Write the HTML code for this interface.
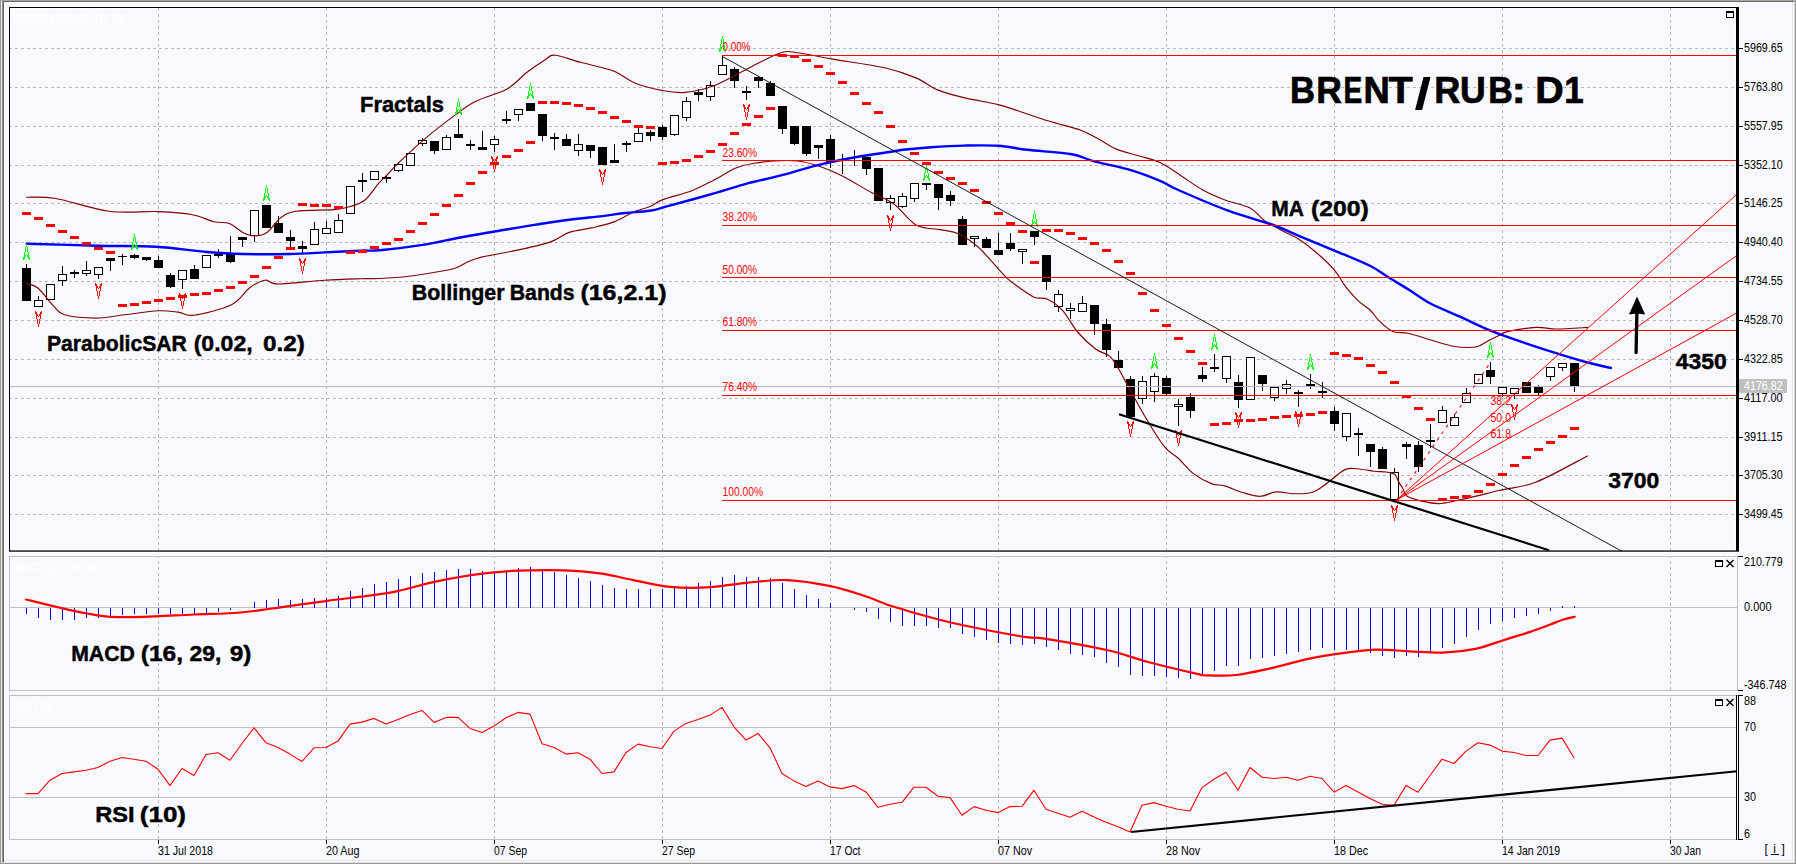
<!DOCTYPE html>
<html><head><meta charset="utf-8"><title>BRENT/RUB D1</title>
<style>html,body{margin:0;padding:0;background:#f8f9fe;overflow:hidden}svg{display:block}text{font-family:"Liberation Sans",sans-serif}</style></head>
<body>
<svg width="1796" height="864" viewBox="0 0 1796 864" font-family="'Liberation Sans', sans-serif">
<rect x="0.00" y="0.00" width="1796.00" height="864.00" fill="#f8f9fe" />
<g shape-rendering="crispEdges">
<rect x="0.00" y="0.00" width="1796.00" height="1.00" fill="#a5a5a5" />
<rect x="0.00" y="1.00" width="1796.00" height="1.00" fill="#696969" />
<rect x="4.00" y="2.00" width="1789.00" height="1.00" fill="#ffffff" />
<rect x="0.00" y="0.00" width="1.00" height="864.00" fill="#999999" />
<rect x="1.00" y="1.00" width="1.00" height="864.00" fill="#eeeeee" />
<rect x="2.00" y="1.00" width="1.00" height="864.00" fill="#8c8c8c" />
<rect x="3.00" y="1.00" width="1.00" height="864.00" fill="#666666" />
<rect x="4.00" y="2.00" width="1.00" height="858.00" fill="#ffffff" />
<rect x="1792.00" y="2.00" width="1.00" height="859.00" fill="#e3e3e3" />
<rect x="1793.00" y="2.00" width="1.00" height="860.00" fill="#ffffff" />
<rect x="1794.00" y="1.00" width="1.00" height="864.00" fill="#d4d4d4" />
<rect x="1795.00" y="0.00" width="1.00" height="864.00" fill="#999999" />
<rect x="4.00" y="860.00" width="1789.00" height="1.00" fill="#e3e3e3" />
<rect x="4.00" y="861.00" width="1790.00" height="1.00" fill="#ffffff" />
<rect x="1.00" y="862.00" width="1794.00" height="1.00" fill="#dcdcdc" />
<rect x="0.00" y="863.00" width="1796.00" height="1.00" fill="#999999" />
<rect x="8.00" y="6.00" width="1732.00" height="1.00" fill="#ffffff" />
<rect x="8.00" y="6.00" width="1.00" height="546.00" fill="#ffffff" />
<rect x="10.00" y="8.00" width="1726.00" height="1.00" fill="#ffffff" />
<rect x="10.00" y="8.00" width="1.00" height="542.00" fill="#ffffff" />
<rect x="1735.00" y="8.00" width="1.00" height="542.00" fill="#ffffff" />
<rect x="1739.00" y="6.00" width="1.00" height="546.00" fill="#ffffff" />
<rect x="10.00" y="549.00" width="1726.00" height="1.00" fill="#ffffff" />
<rect x="8.00" y="552.00" width="1732.00" height="1.00" fill="#ffffff" />
</g>
<g stroke="#b8b8b8" stroke-width="1" stroke-dasharray="3 3" shape-rendering="crispEdges">
<line x1="10" y1="48.5" x2="1737" y2="48.5" stroke-dashoffset="1"/>
<line x1="10" y1="87.5" x2="1737" y2="87.5" stroke-dashoffset="1"/>
<line x1="10" y1="126.5" x2="1737" y2="126.5" stroke-dashoffset="1"/>
<line x1="10" y1="165.5" x2="1737" y2="165.5" stroke-dashoffset="1"/>
<line x1="10" y1="203.5" x2="1737" y2="203.5" stroke-dashoffset="1"/>
<line x1="10" y1="242.5" x2="1737" y2="242.5" stroke-dashoffset="1"/>
<line x1="10" y1="281.5" x2="1737" y2="281.5" stroke-dashoffset="1"/>
<line x1="10" y1="320.5" x2="1737" y2="320.5" stroke-dashoffset="1"/>
<line x1="10" y1="359.5" x2="1737" y2="359.5" stroke-dashoffset="1"/>
<line x1="10" y1="398.5" x2="1737" y2="398.5" stroke-dashoffset="1"/>
<line x1="10" y1="437.5" x2="1737" y2="437.5" stroke-dashoffset="1"/>
<line x1="10" y1="475.5" x2="1737" y2="475.5" stroke-dashoffset="1"/>
<line x1="10" y1="514.5" x2="1737" y2="514.5" stroke-dashoffset="1"/>
<line x1="158.5" y1="8" x2="158.5" y2="550"/>
<line x1="158.5" y1="557" x2="158.5" y2="690" stroke-dashoffset="2"/>
<line x1="158.5" y1="696" x2="158.5" y2="839" stroke-dashoffset="4"/>
<line x1="326.5" y1="8" x2="326.5" y2="550"/>
<line x1="326.5" y1="557" x2="326.5" y2="690" stroke-dashoffset="2"/>
<line x1="326.5" y1="696" x2="326.5" y2="839" stroke-dashoffset="4"/>
<line x1="494.5" y1="8" x2="494.5" y2="550"/>
<line x1="494.5" y1="557" x2="494.5" y2="690" stroke-dashoffset="2"/>
<line x1="494.5" y1="696" x2="494.5" y2="839" stroke-dashoffset="4"/>
<line x1="662.5" y1="8" x2="662.5" y2="550"/>
<line x1="662.5" y1="557" x2="662.5" y2="690" stroke-dashoffset="2"/>
<line x1="662.5" y1="696" x2="662.5" y2="839" stroke-dashoffset="4"/>
<line x1="830.5" y1="8" x2="830.5" y2="550"/>
<line x1="830.5" y1="557" x2="830.5" y2="690" stroke-dashoffset="2"/>
<line x1="830.5" y1="696" x2="830.5" y2="839" stroke-dashoffset="4"/>
<line x1="998.5" y1="8" x2="998.5" y2="550"/>
<line x1="998.5" y1="557" x2="998.5" y2="690" stroke-dashoffset="2"/>
<line x1="998.5" y1="696" x2="998.5" y2="839" stroke-dashoffset="4"/>
<line x1="1166.5" y1="8" x2="1166.5" y2="550"/>
<line x1="1166.5" y1="557" x2="1166.5" y2="690" stroke-dashoffset="2"/>
<line x1="1166.5" y1="696" x2="1166.5" y2="839" stroke-dashoffset="4"/>
<line x1="1334.5" y1="8" x2="1334.5" y2="550"/>
<line x1="1334.5" y1="557" x2="1334.5" y2="690" stroke-dashoffset="2"/>
<line x1="1334.5" y1="696" x2="1334.5" y2="839" stroke-dashoffset="4"/>
<line x1="1502.5" y1="8" x2="1502.5" y2="550"/>
<line x1="1502.5" y1="557" x2="1502.5" y2="690" stroke-dashoffset="2"/>
<line x1="1502.5" y1="696" x2="1502.5" y2="839" stroke-dashoffset="4"/>
<line x1="1670.5" y1="8" x2="1670.5" y2="550"/>
<line x1="1670.5" y1="557" x2="1670.5" y2="690" stroke-dashoffset="2"/>
<line x1="1670.5" y1="696" x2="1670.5" y2="839" stroke-dashoffset="4"/>
</g>
<text x="14.2" y="22.5" font-size="12" fill="#ffffff" font-weight="normal" text-anchor="start" textLength="111" lengthAdjust="spacingAndGlyphs" >&amp;BRENT/RUB. D1 [3]</text>
<text x="14.8" y="571.5" font-size="12" fill="#ffffff" font-weight="normal" text-anchor="start" textLength="81" lengthAdjust="spacingAndGlyphs" >MACD (12, 26, 9)</text>
<text x="15" y="710.5" font-size="12" fill="#ffffff" font-weight="normal" text-anchor="start" textLength="38" lengthAdjust="spacingAndGlyphs" >RSI  (10)</text>
<g shape-rendering="crispEdges">
<rect x="26.00" y="264.00" width="1.00" height="37.00" fill="#000" />
<rect x="22.00" y="268.00" width="9.00" height="33.00" fill="#000" />
<rect x="38.00" y="296.00" width="1.00" height="10.00" fill="#000" />
<rect x="34.00" y="300.00" width="9.00" height="7.00" fill="#000" />
<rect x="35.00" y="301.00" width="7.00" height="5.00" fill="#fff" />
<rect x="50.00" y="284.00" width="1.00" height="15.00" fill="#000" />
<rect x="46.00" y="284.00" width="9.00" height="16.00" fill="#000" />
<rect x="47.00" y="285.00" width="7.00" height="14.00" fill="#fff" />
<rect x="62.00" y="266.00" width="1.00" height="20.00" fill="#000" />
<rect x="58.00" y="274.00" width="9.00" height="7.00" fill="#000" />
<rect x="59.00" y="275.00" width="7.00" height="5.00" fill="#fff" />
<rect x="74.00" y="270.00" width="1.00" height="8.00" fill="#000" />
<rect x="70.00" y="272.00" width="9.00" height="2.00" fill="#000" />
<rect x="86.00" y="261.00" width="1.00" height="15.00" fill="#000" />
<rect x="82.00" y="270.00" width="9.00" height="4.00" fill="#000" />
<rect x="83.00" y="271.00" width="7.00" height="2.00" fill="#fff" />
<rect x="98.00" y="267.00" width="1.00" height="12.00" fill="#000" />
<rect x="94.00" y="267.00" width="9.00" height="8.00" fill="#000" />
<rect x="95.00" y="268.00" width="7.00" height="6.00" fill="#fff" />
<rect x="110.00" y="258.00" width="1.00" height="13.00" fill="#000" />
<rect x="106.00" y="258.00" width="9.00" height="3.00" fill="#000" />
<rect x="122.00" y="254.00" width="1.00" height="11.00" fill="#000" />
<rect x="118.00" y="256.00" width="9.00" height="1.00" fill="#000" />
<rect x="134.00" y="254.00" width="1.00" height="5.00" fill="#000" />
<rect x="130.00" y="255.00" width="9.00" height="3.00" fill="#000" />
<rect x="146.00" y="257.00" width="1.00" height="4.00" fill="#000" />
<rect x="142.00" y="257.00" width="9.00" height="3.00" fill="#000" />
<rect x="158.00" y="256.00" width="1.00" height="12.00" fill="#000" />
<rect x="154.00" y="260.00" width="9.00" height="8.00" fill="#000" />
<rect x="170.00" y="273.00" width="1.00" height="15.00" fill="#000" />
<rect x="166.00" y="275.00" width="9.00" height="12.00" fill="#000" />
<rect x="182.00" y="271.00" width="1.00" height="18.00" fill="#000" />
<rect x="178.00" y="270.00" width="9.00" height="10.00" fill="#000" />
<rect x="179.00" y="271.00" width="7.00" height="8.00" fill="#fff" />
<rect x="194.00" y="265.00" width="1.00" height="13.00" fill="#000" />
<rect x="190.00" y="269.00" width="9.00" height="10.00" fill="#000" />
<rect x="206.00" y="255.00" width="1.00" height="12.00" fill="#000" />
<rect x="202.00" y="255.00" width="9.00" height="13.00" fill="#000" />
<rect x="203.00" y="256.00" width="7.00" height="11.00" fill="#fff" />
<rect x="218.00" y="249.00" width="1.00" height="9.00" fill="#000" />
<rect x="214.00" y="254.00" width="9.00" height="2.00" fill="#000" />
<rect x="230.00" y="236.00" width="1.00" height="27.00" fill="#000" />
<rect x="226.00" y="253.00" width="9.00" height="9.00" fill="#000" />
<rect x="242.00" y="237.00" width="1.00" height="10.00" fill="#000" />
<rect x="238.00" y="237.00" width="9.00" height="3.00" fill="#000" />
<rect x="254.00" y="210.00" width="1.00" height="32.00" fill="#000" />
<rect x="250.00" y="210.00" width="9.00" height="26.00" fill="#000" />
<rect x="251.00" y="211.00" width="7.00" height="24.00" fill="#fff" />
<rect x="266.00" y="205.00" width="1.00" height="23.00" fill="#000" />
<rect x="262.00" y="205.00" width="9.00" height="23.00" fill="#000" />
<rect x="278.00" y="216.00" width="1.00" height="16.00" fill="#000" />
<rect x="274.00" y="223.00" width="9.00" height="10.00" fill="#000" />
<rect x="290.00" y="230.00" width="1.00" height="17.00" fill="#000" />
<rect x="286.00" y="237.00" width="9.00" height="4.00" fill="#000" />
<rect x="302.00" y="241.00" width="1.00" height="12.00" fill="#000" />
<rect x="298.00" y="246.00" width="9.00" height="3.00" fill="#000" />
<rect x="314.00" y="222.00" width="1.00" height="22.00" fill="#000" />
<rect x="310.00" y="229.00" width="9.00" height="16.00" fill="#000" />
<rect x="311.00" y="230.00" width="7.00" height="14.00" fill="#fff" />
<rect x="326.00" y="221.00" width="1.00" height="12.00" fill="#000" />
<rect x="322.00" y="228.00" width="9.00" height="6.00" fill="#000" />
<rect x="323.00" y="229.00" width="7.00" height="4.00" fill="#fff" />
<rect x="338.00" y="214.00" width="1.00" height="18.00" fill="#000" />
<rect x="334.00" y="220.00" width="9.00" height="13.00" fill="#000" />
<rect x="335.00" y="221.00" width="7.00" height="11.00" fill="#fff" />
<rect x="350.00" y="186.00" width="1.00" height="27.00" fill="#000" />
<rect x="346.00" y="186.00" width="9.00" height="28.00" fill="#000" />
<rect x="347.00" y="187.00" width="7.00" height="26.00" fill="#fff" />
<rect x="362.00" y="173.00" width="1.00" height="19.00" fill="#000" />
<rect x="358.00" y="180.00" width="9.00" height="2.00" fill="#000" />
<rect x="374.00" y="171.00" width="1.00" height="8.00" fill="#000" />
<rect x="370.00" y="171.00" width="9.00" height="9.00" fill="#000" />
<rect x="371.00" y="172.00" width="7.00" height="7.00" fill="#fff" />
<rect x="386.00" y="175.00" width="1.00" height="8.00" fill="#000" />
<rect x="382.00" y="177.00" width="9.00" height="2.00" fill="#000" />
<rect x="398.00" y="162.00" width="1.00" height="10.00" fill="#000" />
<rect x="394.00" y="164.00" width="9.00" height="7.00" fill="#000" />
<rect x="395.00" y="165.00" width="7.00" height="5.00" fill="#fff" />
<rect x="410.00" y="154.00" width="1.00" height="11.00" fill="#000" />
<rect x="406.00" y="153.00" width="9.00" height="13.00" fill="#000" />
<rect x="407.00" y="154.00" width="7.00" height="11.00" fill="#fff" />
<rect x="422.00" y="138.00" width="1.00" height="8.00" fill="#000" />
<rect x="418.00" y="140.00" width="9.00" height="4.00" fill="#000" />
<rect x="419.00" y="141.00" width="7.00" height="2.00" fill="#fff" />
<rect x="434.00" y="141.00" width="1.00" height="13.00" fill="#000" />
<rect x="430.00" y="141.00" width="9.00" height="10.00" fill="#000" />
<rect x="446.00" y="135.00" width="1.00" height="14.00" fill="#000" />
<rect x="442.00" y="137.00" width="9.00" height="13.00" fill="#000" />
<rect x="443.00" y="138.00" width="7.00" height="11.00" fill="#fff" />
<rect x="458.00" y="119.00" width="1.00" height="18.00" fill="#000" />
<rect x="454.00" y="134.00" width="9.00" height="4.00" fill="#000" />
<rect x="470.00" y="140.00" width="1.00" height="10.00" fill="#000" />
<rect x="466.00" y="144.00" width="9.00" height="2.00" fill="#000" />
<rect x="482.00" y="131.00" width="1.00" height="19.00" fill="#000" />
<rect x="478.00" y="147.00" width="9.00" height="3.00" fill="#000" />
<rect x="494.00" y="136.00" width="1.00" height="16.00" fill="#000" />
<rect x="490.00" y="139.00" width="9.00" height="6.00" fill="#000" />
<rect x="491.00" y="140.00" width="7.00" height="4.00" fill="#fff" />
<rect x="506.00" y="111.00" width="1.00" height="13.00" fill="#000" />
<rect x="502.00" y="119.00" width="9.00" height="2.00" fill="#000" />
<rect x="518.00" y="110.00" width="1.00" height="11.00" fill="#000" />
<rect x="514.00" y="109.00" width="9.00" height="6.00" fill="#000" />
<rect x="515.00" y="110.00" width="7.00" height="4.00" fill="#fff" />
<rect x="530.00" y="104.00" width="1.00" height="6.00" fill="#000" />
<rect x="526.00" y="103.00" width="9.00" height="8.00" fill="#000" />
<rect x="542.00" y="114.00" width="1.00" height="27.00" fill="#000" />
<rect x="538.00" y="114.00" width="9.00" height="22.00" fill="#000" />
<rect x="554.00" y="133.00" width="1.00" height="17.00" fill="#000" />
<rect x="550.00" y="137.00" width="9.00" height="2.00" fill="#000" />
<rect x="566.00" y="134.00" width="1.00" height="11.00" fill="#000" />
<rect x="562.00" y="139.00" width="9.00" height="7.00" fill="#000" />
<rect x="578.00" y="134.00" width="1.00" height="22.00" fill="#000" />
<rect x="574.00" y="144.00" width="9.00" height="7.00" fill="#000" />
<rect x="575.00" y="145.00" width="7.00" height="5.00" fill="#fff" />
<rect x="590.00" y="145.00" width="1.00" height="13.00" fill="#000" />
<rect x="586.00" y="145.00" width="9.00" height="6.00" fill="#000" />
<rect x="602.00" y="147.00" width="1.00" height="18.00" fill="#000" />
<rect x="598.00" y="147.00" width="9.00" height="18.00" fill="#000" />
<rect x="614.00" y="144.00" width="1.00" height="18.00" fill="#000" />
<rect x="610.00" y="160.00" width="9.00" height="3.00" fill="#000" />
<rect x="626.00" y="141.00" width="1.00" height="11.00" fill="#000" />
<rect x="622.00" y="143.00" width="9.00" height="2.00" fill="#000" />
<rect x="638.00" y="128.00" width="1.00" height="13.00" fill="#000" />
<rect x="634.00" y="133.00" width="9.00" height="9.00" fill="#000" />
<rect x="635.00" y="134.00" width="7.00" height="7.00" fill="#fff" />
<rect x="650.00" y="130.00" width="1.00" height="11.00" fill="#000" />
<rect x="646.00" y="132.00" width="9.00" height="4.00" fill="#000" />
<rect x="662.00" y="125.00" width="1.00" height="15.00" fill="#000" />
<rect x="658.00" y="127.00" width="9.00" height="10.00" fill="#000" />
<rect x="674.00" y="116.00" width="1.00" height="20.00" fill="#000" />
<rect x="670.00" y="115.00" width="9.00" height="20.00" fill="#000" />
<rect x="671.00" y="116.00" width="7.00" height="18.00" fill="#fff" />
<rect x="686.00" y="97.00" width="1.00" height="24.00" fill="#000" />
<rect x="682.00" y="101.00" width="9.00" height="17.00" fill="#000" />
<rect x="683.00" y="102.00" width="7.00" height="15.00" fill="#fff" />
<rect x="698.00" y="89.00" width="1.00" height="12.00" fill="#000" />
<rect x="694.00" y="92.00" width="9.00" height="3.00" fill="#000" />
<rect x="710.00" y="81.00" width="1.00" height="20.00" fill="#000" />
<rect x="706.00" y="85.00" width="9.00" height="12.00" fill="#000" />
<rect x="707.00" y="86.00" width="7.00" height="10.00" fill="#fff" />
<rect x="722.00" y="56.00" width="1.00" height="18.00" fill="#000" />
<rect x="718.00" y="65.00" width="9.00" height="10.00" fill="#000" />
<rect x="719.00" y="66.00" width="7.00" height="8.00" fill="#fff" />
<rect x="734.00" y="67.00" width="1.00" height="21.00" fill="#000" />
<rect x="730.00" y="69.00" width="9.00" height="12.00" fill="#000" />
<rect x="746.00" y="86.00" width="1.00" height="14.00" fill="#000" />
<rect x="742.00" y="91.00" width="9.00" height="2.00" fill="#000" />
<rect x="758.00" y="76.00" width="1.00" height="12.00" fill="#000" />
<rect x="754.00" y="77.00" width="9.00" height="4.00" fill="#000" />
<rect x="770.00" y="81.00" width="1.00" height="15.00" fill="#000" />
<rect x="766.00" y="83.00" width="9.00" height="13.00" fill="#000" />
<rect x="782.00" y="107.00" width="1.00" height="27.00" fill="#000" />
<rect x="778.00" y="106.00" width="9.00" height="23.00" fill="#000" />
<rect x="794.00" y="126.00" width="1.00" height="19.00" fill="#000" />
<rect x="790.00" y="126.00" width="9.00" height="18.00" fill="#000" />
<rect x="806.00" y="126.00" width="1.00" height="30.00" fill="#000" />
<rect x="802.00" y="126.00" width="9.00" height="28.00" fill="#000" />
<rect x="818.00" y="145.00" width="1.00" height="14.00" fill="#000" />
<rect x="814.00" y="145.00" width="9.00" height="3.00" fill="#000" />
<rect x="830.00" y="135.00" width="1.00" height="33.00" fill="#000" />
<rect x="826.00" y="139.00" width="9.00" height="23.00" fill="#000" />
<rect x="842.00" y="154.00" width="1.00" height="20.00" fill="#000" />
<rect x="838.00" y="160.00" width="9.00" height="1.00" fill="#000" />
<rect x="854.00" y="150.00" width="1.00" height="16.00" fill="#000" />
<rect x="850.00" y="157.00" width="9.00" height="1.00" fill="#000" />
<rect x="866.00" y="157.00" width="1.00" height="18.00" fill="#000" />
<rect x="862.00" y="157.00" width="9.00" height="12.00" fill="#000" />
<rect x="878.00" y="168.00" width="1.00" height="32.00" fill="#000" />
<rect x="874.00" y="168.00" width="9.00" height="33.00" fill="#000" />
<rect x="890.00" y="195.00" width="1.00" height="15.00" fill="#000" />
<rect x="886.00" y="198.00" width="9.00" height="5.00" fill="#000" />
<rect x="887.00" y="199.00" width="7.00" height="3.00" fill="#fff" />
<rect x="902.00" y="193.00" width="1.00" height="15.00" fill="#000" />
<rect x="898.00" y="196.00" width="9.00" height="11.00" fill="#000" />
<rect x="899.00" y="197.00" width="7.00" height="9.00" fill="#fff" />
<rect x="914.00" y="184.00" width="1.00" height="18.00" fill="#000" />
<rect x="910.00" y="183.00" width="9.00" height="16.00" fill="#000" />
<rect x="911.00" y="184.00" width="7.00" height="14.00" fill="#fff" />
<rect x="926.00" y="183.00" width="1.00" height="7.00" fill="#000" />
<rect x="922.00" y="183.00" width="9.00" height="2.00" fill="#000" />
<rect x="938.00" y="184.00" width="1.00" height="26.00" fill="#000" />
<rect x="934.00" y="184.00" width="9.00" height="14.00" fill="#000" />
<rect x="950.00" y="191.00" width="1.00" height="15.00" fill="#000" />
<rect x="946.00" y="195.00" width="9.00" height="6.00" fill="#000" />
<rect x="962.00" y="216.00" width="1.00" height="29.00" fill="#000" />
<rect x="958.00" y="219.00" width="9.00" height="26.00" fill="#000" />
<rect x="974.00" y="236.00" width="1.00" height="11.00" fill="#000" />
<rect x="970.00" y="236.00" width="9.00" height="3.00" fill="#000" />
<rect x="971.00" y="237.00" width="7.00" height="1.00" fill="#fff" />
<rect x="986.00" y="237.00" width="1.00" height="11.00" fill="#000" />
<rect x="982.00" y="239.00" width="9.00" height="9.00" fill="#000" />
<rect x="998.00" y="233.00" width="1.00" height="22.00" fill="#000" />
<rect x="994.00" y="250.00" width="9.00" height="5.00" fill="#000" />
<rect x="1010.00" y="233.00" width="1.00" height="18.00" fill="#000" />
<rect x="1006.00" y="243.00" width="9.00" height="6.00" fill="#000" />
<rect x="1022.00" y="249.00" width="1.00" height="15.00" fill="#000" />
<rect x="1018.00" y="249.00" width="9.00" height="3.00" fill="#000" />
<rect x="1019.00" y="250.00" width="7.00" height="1.00" fill="#fff" />
<rect x="1034.00" y="231.00" width="1.00" height="14.00" fill="#000" />
<rect x="1030.00" y="231.00" width="9.00" height="6.00" fill="#000" />
<rect x="1046.00" y="256.00" width="1.00" height="34.00" fill="#000" />
<rect x="1042.00" y="255.00" width="9.00" height="27.00" fill="#000" />
<rect x="1058.00" y="290.00" width="1.00" height="22.00" fill="#000" />
<rect x="1054.00" y="294.00" width="9.00" height="13.00" fill="#000" />
<rect x="1055.00" y="295.00" width="7.00" height="11.00" fill="#fff" />
<rect x="1070.00" y="303.00" width="1.00" height="16.00" fill="#000" />
<rect x="1066.00" y="308.00" width="9.00" height="3.00" fill="#000" />
<rect x="1067.00" y="309.00" width="7.00" height="1.00" fill="#fff" />
<rect x="1082.00" y="296.00" width="1.00" height="15.00" fill="#000" />
<rect x="1078.00" y="303.00" width="9.00" height="9.00" fill="#000" />
<rect x="1079.00" y="304.00" width="7.00" height="7.00" fill="#fff" />
<rect x="1094.00" y="306.00" width="1.00" height="29.00" fill="#000" />
<rect x="1090.00" y="305.00" width="9.00" height="19.00" fill="#000" />
<rect x="1106.00" y="319.00" width="1.00" height="38.00" fill="#000" />
<rect x="1102.00" y="324.00" width="9.00" height="26.00" fill="#000" />
<rect x="1118.00" y="351.00" width="1.00" height="17.00" fill="#000" />
<rect x="1114.00" y="360.00" width="9.00" height="8.00" fill="#000" />
<rect x="1130.00" y="376.00" width="1.00" height="41.00" fill="#000" />
<rect x="1126.00" y="379.00" width="9.00" height="38.00" fill="#000" />
<rect x="1142.00" y="376.00" width="1.00" height="28.00" fill="#000" />
<rect x="1138.00" y="381.00" width="9.00" height="18.00" fill="#000" />
<rect x="1139.00" y="382.00" width="7.00" height="16.00" fill="#fff" />
<rect x="1154.00" y="373.00" width="1.00" height="29.00" fill="#000" />
<rect x="1150.00" y="376.00" width="9.00" height="16.00" fill="#000" />
<rect x="1151.00" y="377.00" width="7.00" height="14.00" fill="#fff" />
<rect x="1166.00" y="376.00" width="1.00" height="19.00" fill="#000" />
<rect x="1162.00" y="378.00" width="9.00" height="16.00" fill="#000" />
<rect x="1178.00" y="399.00" width="1.00" height="27.00" fill="#000" />
<rect x="1174.00" y="404.00" width="9.00" height="3.00" fill="#000" />
<rect x="1175.00" y="405.00" width="7.00" height="1.00" fill="#fff" />
<rect x="1190.00" y="393.00" width="1.00" height="25.00" fill="#000" />
<rect x="1186.00" y="397.00" width="9.00" height="14.00" fill="#000" />
<rect x="1202.00" y="367.00" width="1.00" height="15.00" fill="#000" />
<rect x="1198.00" y="375.00" width="9.00" height="4.00" fill="#000" />
<rect x="1214.00" y="354.00" width="1.00" height="18.00" fill="#000" />
<rect x="1210.00" y="367.00" width="9.00" height="2.00" fill="#000" />
<rect x="1226.00" y="356.00" width="1.00" height="27.00" fill="#000" />
<rect x="1222.00" y="356.00" width="9.00" height="23.00" fill="#000" />
<rect x="1223.00" y="357.00" width="7.00" height="21.00" fill="#fff" />
<rect x="1238.00" y="375.00" width="1.00" height="33.00" fill="#000" />
<rect x="1234.00" y="382.00" width="9.00" height="18.00" fill="#000" />
<rect x="1250.00" y="357.00" width="1.00" height="43.00" fill="#000" />
<rect x="1246.00" y="357.00" width="9.00" height="43.00" fill="#000" />
<rect x="1247.00" y="358.00" width="7.00" height="41.00" fill="#fff" />
<rect x="1262.00" y="375.00" width="1.00" height="16.00" fill="#000" />
<rect x="1258.00" y="375.00" width="9.00" height="9.00" fill="#000" />
<rect x="1274.00" y="387.00" width="1.00" height="14.00" fill="#000" />
<rect x="1270.00" y="387.00" width="9.00" height="11.00" fill="#000" />
<rect x="1271.00" y="388.00" width="7.00" height="9.00" fill="#fff" />
<rect x="1286.00" y="380.00" width="1.00" height="14.00" fill="#000" />
<rect x="1282.00" y="384.00" width="9.00" height="5.00" fill="#000" />
<rect x="1283.00" y="385.00" width="7.00" height="3.00" fill="#fff" />
<rect x="1298.00" y="390.00" width="1.00" height="17.00" fill="#000" />
<rect x="1294.00" y="392.00" width="9.00" height="2.00" fill="#000" />
<rect x="1310.00" y="374.00" width="1.00" height="15.00" fill="#000" />
<rect x="1306.00" y="384.00" width="9.00" height="2.00" fill="#000" />
<rect x="1322.00" y="382.00" width="1.00" height="16.00" fill="#000" />
<rect x="1318.00" y="391.00" width="9.00" height="2.00" fill="#000" />
<rect x="1334.00" y="407.00" width="1.00" height="24.00" fill="#000" />
<rect x="1330.00" y="411.00" width="9.00" height="13.00" fill="#000" />
<rect x="1346.00" y="413.00" width="1.00" height="28.00" fill="#000" />
<rect x="1342.00" y="413.00" width="9.00" height="24.00" fill="#000" />
<rect x="1343.00" y="414.00" width="7.00" height="22.00" fill="#fff" />
<rect x="1358.00" y="428.00" width="1.00" height="28.00" fill="#000" />
<rect x="1354.00" y="433.00" width="9.00" height="2.00" fill="#000" />
<rect x="1370.00" y="444.00" width="1.00" height="23.00" fill="#000" />
<rect x="1366.00" y="444.00" width="9.00" height="8.00" fill="#000" />
<rect x="1382.00" y="447.00" width="1.00" height="21.00" fill="#000" />
<rect x="1378.00" y="449.00" width="9.00" height="20.00" fill="#000" />
<rect x="1394.00" y="468.00" width="1.00" height="32.00" fill="#000" />
<rect x="1390.00" y="472.00" width="9.00" height="28.00" fill="#000" />
<rect x="1391.00" y="473.00" width="7.00" height="26.00" fill="#fff" />
<rect x="1406.00" y="442.00" width="1.00" height="17.00" fill="#000" />
<rect x="1402.00" y="444.00" width="9.00" height="3.00" fill="#000" />
<rect x="1418.00" y="441.00" width="1.00" height="31.00" fill="#000" />
<rect x="1414.00" y="445.00" width="9.00" height="22.00" fill="#000" />
<rect x="1430.00" y="424.00" width="1.00" height="24.00" fill="#000" />
<rect x="1426.00" y="440.00" width="9.00" height="2.00" fill="#000" />
<rect x="1442.00" y="406.00" width="1.00" height="16.00" fill="#000" />
<rect x="1438.00" y="410.00" width="9.00" height="13.00" fill="#000" />
<rect x="1439.00" y="411.00" width="7.00" height="11.00" fill="#fff" />
<rect x="1454.00" y="414.00" width="1.00" height="11.00" fill="#000" />
<rect x="1450.00" y="417.00" width="9.00" height="9.00" fill="#000" />
<rect x="1451.00" y="418.00" width="7.00" height="7.00" fill="#fff" />
<rect x="1466.00" y="388.00" width="1.00" height="14.00" fill="#000" />
<rect x="1462.00" y="393.00" width="9.00" height="10.00" fill="#000" />
<rect x="1463.00" y="394.00" width="7.00" height="8.00" fill="#fff" />
<rect x="1478.00" y="374.00" width="1.00" height="9.00" fill="#000" />
<rect x="1474.00" y="374.00" width="9.00" height="10.00" fill="#000" />
<rect x="1475.00" y="375.00" width="7.00" height="8.00" fill="#fff" />
<rect x="1490.00" y="362.00" width="1.00" height="22.00" fill="#000" />
<rect x="1486.00" y="370.00" width="9.00" height="7.00" fill="#000" />
<rect x="1502.00" y="386.00" width="1.00" height="11.00" fill="#000" />
<rect x="1498.00" y="387.00" width="9.00" height="7.00" fill="#000" />
<rect x="1499.00" y="388.00" width="7.00" height="5.00" fill="#fff" />
<rect x="1514.00" y="388.00" width="1.00" height="11.00" fill="#000" />
<rect x="1510.00" y="388.00" width="9.00" height="6.00" fill="#000" />
<rect x="1511.00" y="389.00" width="7.00" height="4.00" fill="#fff" />
<rect x="1526.00" y="382.00" width="1.00" height="10.00" fill="#000" />
<rect x="1522.00" y="382.00" width="9.00" height="11.00" fill="#000" />
<rect x="1538.00" y="385.00" width="1.00" height="10.00" fill="#000" />
<rect x="1534.00" y="386.00" width="9.00" height="7.00" fill="#000" />
<rect x="1550.00" y="368.00" width="1.00" height="13.00" fill="#000" />
<rect x="1546.00" y="367.00" width="9.00" height="10.00" fill="#000" />
<rect x="1547.00" y="368.00" width="7.00" height="8.00" fill="#fff" />
<rect x="1562.00" y="364.00" width="1.00" height="7.00" fill="#000" />
<rect x="1558.00" y="363.00" width="9.00" height="5.00" fill="#000" />
<rect x="1559.00" y="364.00" width="7.00" height="3.00" fill="#fff" />
<rect x="1574.00" y="363.00" width="1.00" height="29.00" fill="#000" />
<rect x="1570.00" y="363.00" width="9.00" height="24.00" fill="#000" />
</g>
<path d="M26.7,197.2 C31.5,197.4 42.0,196.2 55.7,198.5 C69.4,200.8 92.0,209.0 109.0,211.2 C126.0,213.4 144.2,211.0 158.0,211.6 C171.8,212.2 182.2,212.8 191.5,214.5 C200.8,216.2 207.5,220.2 213.8,221.7 C220.1,223.2 224.6,221.7 229.4,223.5 C234.2,225.3 238.7,230.4 242.8,232.4 C246.9,234.4 249.9,235.7 253.9,235.7 C257.9,235.7 262.6,235.4 267.0,232.4 C271.4,229.4 275.8,221.4 280.6,217.9 C285.4,214.4 287.1,212.6 296.0,211.2 C304.9,209.8 325.1,210.3 334.0,209.6 C342.9,208.8 344.5,208.3 349.7,206.7 C354.9,205.1 360.2,203.9 365.0,200.0 C369.8,196.1 374.8,187.7 378.6,183.4 C382.4,179.1 384.8,177.3 388.0,174.0 C391.2,170.7 391.7,169.4 397.8,163.6 C403.9,157.8 414.9,147.3 424.5,139.1 C434.1,130.9 447.1,120.9 455.7,114.6 C464.2,108.3 467.2,105.6 475.8,101.3 C484.4,97.0 498.5,93.8 507.0,89.0 C515.5,84.2 520.7,77.1 527.0,72.3 C533.3,67.5 540.2,62.9 544.8,60.0 C549.4,57.1 548.9,54.8 554.8,55.2 C560.7,55.6 570.8,59.7 580.4,62.3 C590.0,64.9 603.4,67.3 612.7,70.8 C622.0,74.3 627.6,80.2 636.0,83.5 C644.4,86.8 654.6,89.1 662.8,90.6 C671.0,92.1 676.5,93.2 685.0,92.4 C693.5,91.6 704.7,89.1 714.0,85.7 C723.3,82.3 733.1,76.2 740.8,72.3 C748.5,68.4 753.1,65.6 760.0,62.3 C766.9,58.9 776.0,53.8 782.3,52.2 C788.6,50.6 789.7,51.6 797.9,52.7 C806.1,53.8 816.8,56.4 831.3,58.9 C845.8,61.4 870.6,64.6 884.7,67.8 C898.8,71.0 907.0,74.2 915.9,77.9 C924.8,81.6 930.0,86.8 938.2,90.1 C946.4,93.4 954.9,95.5 964.9,97.9 C974.9,100.3 989.0,102.3 998.3,104.6 C1007.6,106.9 1012.1,108.9 1020.6,111.7 C1029.1,114.5 1039.5,118.2 1049.5,121.3 C1059.5,124.4 1072.5,127.2 1080.7,130.2 C1088.9,133.2 1092.6,135.9 1098.5,139.1 C1104.4,142.2 1109.6,146.3 1116.3,149.1 C1123.0,151.9 1131.3,153.6 1138.6,155.8 C1145.9,158.0 1153.1,159.3 1160.0,162.5 C1166.9,165.7 1172.9,170.4 1180.0,175.0 C1187.1,179.6 1195.3,185.8 1202.8,190.0 C1210.3,194.2 1217.2,197.0 1225.0,200.0 C1232.8,203.0 1242.9,204.3 1249.6,207.8 C1256.3,211.3 1259.3,217.1 1265.2,221.2 C1271.1,225.3 1279.4,229.2 1285.2,232.3 C1291.0,235.4 1294.2,236.1 1300.0,240.0 C1305.8,243.9 1314.2,250.7 1320.0,255.8 C1325.8,260.9 1330.8,265.8 1335.0,270.8 C1339.2,275.8 1341.1,280.8 1345.0,285.8 C1348.9,290.8 1354.1,296.8 1358.3,300.8 C1362.5,304.8 1366.4,306.5 1370.0,310.0 C1373.6,313.5 1376.1,318.1 1380.0,321.7 C1383.9,325.3 1388.6,329.8 1393.3,331.7 C1398.0,333.6 1401.6,331.8 1408.3,333.3 C1415.0,334.8 1425.8,338.6 1433.3,340.8 C1440.8,343.0 1447.5,345.2 1453.3,346.3 C1459.1,347.4 1464.1,347.5 1468.3,347.5 C1472.5,347.5 1475.0,347.4 1478.3,346.3 C1481.6,345.2 1484.7,342.7 1488.3,340.8 C1491.9,338.9 1496.8,336.5 1500.0,335.0 C1503.2,333.5 1501.4,332.9 1507.4,331.6 C1513.5,330.3 1528.2,327.8 1536.3,327.4 C1544.4,327.0 1547.8,329.0 1556.3,329.0 C1564.8,329.0 1582.3,327.7 1587.5,327.4" fill="none" stroke="#800000" stroke-width="1.15" stroke-linecap="round" />
<path d="M26.7,283.6 C28.6,284.3 33.4,284.3 37.9,288.0 C42.4,291.7 49.0,301.4 53.5,305.9 C58.0,310.4 57.5,312.8 64.6,314.8 C71.6,316.8 85.8,318.1 95.8,318.1 C105.8,318.1 114.3,316.0 124.7,314.8 C135.1,313.6 149.1,311.2 158.0,310.8 C166.9,310.4 172.0,311.4 178.0,312.1 C184.0,312.8 184.9,316.4 193.8,315.2 C202.7,314.0 222.3,309.2 231.6,304.7 C240.9,300.2 243.8,292.1 249.4,288.0 C255.0,283.9 260.2,280.9 265.0,280.2 C269.8,279.5 268.4,284.0 278.4,284.0 C288.4,284.0 311.3,281.1 325.0,280.2 C338.7,279.3 351.6,279.0 360.8,278.7 C370.0,278.4 372.0,278.9 380.0,278.5 C388.0,278.1 399.4,277.4 409.0,276.3 C418.6,275.2 430.1,273.2 437.9,271.8 C445.7,270.4 450.5,269.8 455.7,268.0 C460.9,266.2 464.7,263.2 469.1,261.3 C473.6,259.4 475.7,258.5 482.4,256.9 C489.1,255.3 498.1,254.2 509.2,251.8 C520.4,249.4 539.3,245.6 549.3,242.4 C559.3,239.2 562.2,234.8 569.3,232.4 C576.3,230.0 584.2,229.7 591.6,227.9 C599.0,226.2 606.9,224.6 613.9,221.9 C620.9,219.2 628.0,214.2 633.9,211.7 C639.8,209.2 644.7,208.8 649.5,206.8 C654.3,204.8 655.8,202.3 662.8,199.6 C669.8,196.9 683.2,194.0 691.8,190.7 C700.3,187.4 706.7,183.8 714.1,180.0 C721.5,176.2 729.7,170.6 736.4,167.8 C743.1,165.0 748.1,164.4 754.2,163.3 C760.3,162.2 765.7,161.4 773.0,161.0 C780.3,160.6 790.1,160.1 797.9,161.0 C805.7,161.9 812.6,164.0 820.0,166.5 C827.4,169.0 833.8,171.6 842.4,175.9 C851.0,180.2 862.9,188.0 871.4,192.6 C879.9,197.2 886.2,198.3 893.6,203.7 C901.0,209.1 908.2,220.6 915.9,224.9 C923.6,229.2 933.0,228.2 940.0,229.6 C947.0,231.0 951.5,230.5 957.8,233.4 C964.1,236.3 970.1,239.8 977.9,246.8 C985.7,253.9 998.7,269.6 1004.6,275.7 C1010.5,281.8 1008.7,280.0 1013.5,283.5 C1018.3,287.0 1027.9,294.3 1033.5,296.9 C1039.1,299.5 1042.1,296.9 1046.9,299.1 C1051.7,301.3 1057.3,304.7 1062.5,310.3 C1067.7,315.9 1072.4,326.0 1078.0,332.5 C1083.6,339.0 1090.7,345.3 1095.9,349.2 C1101.1,353.1 1105.6,352.7 1109.3,355.9 C1113.0,359.1 1115.6,364.1 1118.2,368.2 C1120.8,372.3 1120.5,372.5 1124.9,380.4 C1129.3,388.3 1137.9,404.6 1144.5,415.7 C1151.1,426.8 1159.0,439.8 1164.6,446.9 C1170.2,453.9 1173.2,453.6 1178.0,458.0 C1182.8,462.4 1187.9,469.3 1193.5,473.6 C1199.1,477.9 1206.2,481.6 1211.4,483.6 C1216.6,485.7 1219.5,484.4 1224.7,485.9 C1229.9,487.4 1236.5,490.8 1242.5,492.5 C1248.5,494.2 1254.8,496.4 1260.4,496.3 C1266.0,496.2 1270.4,492.3 1276.0,491.9 C1281.6,491.5 1287.9,493.6 1293.8,493.7 C1299.7,493.8 1306.4,494.0 1311.6,492.5 C1316.8,491.0 1319.4,488.6 1325.0,484.8 C1330.6,481.0 1339.1,472.2 1345.0,469.6 C1350.9,467.0 1355.8,468.9 1360.6,469.2 C1365.4,469.5 1369.8,470.7 1374.0,471.2 C1378.2,471.7 1382.8,471.6 1386.0,472.0 C1389.2,472.4 1391.6,472.9 1393.3,473.6 C1395.0,474.3 1395.0,474.5 1396.0,476.0 C1397.0,477.5 1397.9,480.5 1399.1,482.6 C1400.3,484.8 1402.1,487.0 1403.1,488.9 C1404.1,490.8 1404.2,492.7 1405.0,494.0 C1405.8,495.3 1406.2,495.8 1408.0,496.7 C1409.8,497.6 1413.5,498.8 1416.0,499.6 C1418.5,500.4 1418.9,500.8 1423.0,501.4 C1427.1,502.0 1433.8,504.0 1440.8,503.5 C1447.8,503.0 1455.4,500.8 1465.3,498.6 C1475.2,496.4 1488.2,493.1 1500.0,490.3 C1511.8,487.5 1521.7,487.7 1536.3,482.0 C1550.9,476.3 1579.0,460.2 1587.5,455.9" fill="none" stroke="#800000" stroke-width="1.15" stroke-linecap="round" />
<path d="M26.7,243.7 C38.6,244.0 76.5,245.2 98.0,245.7 C119.5,246.2 137.8,245.8 156.0,246.8 C174.2,247.9 192.5,250.8 207.0,252.0 C221.5,253.2 229.1,253.7 242.8,254.0 C256.6,254.3 275.8,254.3 289.5,254.0 C303.2,253.7 313.1,253.0 325.0,252.4 C336.9,251.8 351.6,251.0 360.8,250.6 C370.0,250.2 369.4,251.2 380.0,250.2 C390.6,249.2 411.1,246.7 424.5,244.6 C437.9,242.5 448.3,239.7 460.2,237.5 C472.1,235.3 483.2,233.5 495.8,231.3 C508.4,229.2 523.6,226.5 535.9,224.6 C548.1,222.7 558.2,221.1 569.3,219.7 C580.4,218.3 593.4,217.2 602.7,216.1 C612.0,215.0 617.2,213.9 625.0,213.0 C632.8,212.1 642.1,212.0 649.5,210.8 C656.9,209.6 658.7,208.6 669.5,205.7 C680.3,202.8 701.1,197.1 714.1,193.4 C727.1,189.7 736.5,186.4 747.5,183.4 C758.5,180.4 768.2,178.8 780.0,175.7 C791.8,172.6 805.0,168.2 818.0,165.1 C831.0,161.9 845.8,159.0 858.0,156.8 C870.2,154.6 883.5,153.0 891.0,151.8 C898.5,150.6 896.3,150.6 903.0,149.8 C909.7,149.0 920.8,147.9 931.0,147.2 C941.2,146.5 952.8,145.8 964.0,145.6 C975.2,145.4 987.8,145.1 998.3,145.8 C1008.8,146.5 1015.0,148.4 1027.3,149.8 C1039.5,151.2 1060.7,152.4 1071.8,154.3 C1082.9,156.2 1084.8,158.9 1094.1,161.4 C1103.4,163.9 1116.5,166.0 1127.5,169.2 C1138.5,172.4 1151.5,177.3 1160.0,180.8 C1168.5,184.3 1166.7,184.9 1178.3,190.0 C1189.9,195.1 1213.9,205.4 1229.5,211.2 C1245.1,216.9 1260.0,220.3 1271.8,224.5 C1283.5,228.7 1289.5,231.9 1300.0,236.3 C1310.5,240.7 1323.3,245.9 1335.0,250.8 C1346.7,255.7 1360.8,261.2 1370.0,265.8 C1379.2,270.4 1383.4,274.3 1390.0,278.3 C1396.6,282.3 1402.7,285.8 1409.4,290.0 C1416.1,294.2 1421.6,298.9 1430.0,303.3 C1438.4,307.8 1449.7,312.1 1460.0,316.7 C1470.3,321.3 1480.2,326.5 1491.8,331.2 C1503.4,335.9 1518.1,340.7 1529.6,344.6 C1541.1,348.5 1550.8,351.5 1560.8,354.6 C1570.8,357.7 1581.4,360.8 1589.8,363.0 C1598.2,365.2 1607.4,367.2 1610.9,368.0" fill="none" stroke="#0000ff" stroke-width="2.4" stroke-linecap="round" />
<g shape-rendering="crispEdges" fill="#ff0000">
<rect x="22" y="212" width="9" height="3"/>
<rect x="34" y="217" width="9" height="3"/>
<rect x="46" y="224" width="9" height="3"/>
<rect x="58" y="230" width="9" height="3"/>
<rect x="70" y="236" width="9" height="3"/>
<rect x="82" y="242" width="9" height="3"/>
<rect x="94" y="247" width="9" height="3"/>
<rect x="106" y="251" width="9" height="3"/>
<rect x="118" y="304" width="9" height="3"/>
<rect x="130" y="303" width="9" height="3"/>
<rect x="142" y="301" width="9" height="3"/>
<rect x="154" y="299" width="9" height="3"/>
<rect x="166" y="297" width="9" height="3"/>
<rect x="178" y="295" width="9" height="3"/>
<rect x="190" y="293" width="9" height="3"/>
<rect x="202" y="292" width="9" height="3"/>
<rect x="214" y="289" width="9" height="3"/>
<rect x="226" y="286" width="9" height="3"/>
<rect x="238" y="281" width="9" height="3"/>
<rect x="250" y="275" width="9" height="3"/>
<rect x="262" y="266" width="9" height="3"/>
<rect x="274" y="256" width="9" height="3"/>
<rect x="286" y="247" width="9" height="3"/>
<rect x="298" y="203" width="9" height="3"/>
<rect x="310" y="204" width="9" height="3"/>
<rect x="322" y="204" width="9" height="3"/>
<rect x="334" y="206" width="9" height="3"/>
<rect x="346" y="251" width="9" height="3"/>
<rect x="358" y="250" width="9" height="3"/>
<rect x="370" y="246" width="9" height="3"/>
<rect x="382" y="242" width="9" height="3"/>
<rect x="394" y="238" width="9" height="3"/>
<rect x="406" y="230" width="9" height="3"/>
<rect x="418" y="222" width="9" height="3"/>
<rect x="430" y="213" width="9" height="3"/>
<rect x="442" y="204" width="9" height="3"/>
<rect x="454" y="194" width="9" height="3"/>
<rect x="466" y="182" width="9" height="3"/>
<rect x="478" y="171" width="9" height="3"/>
<rect x="490" y="162" width="9" height="3"/>
<rect x="502" y="155" width="9" height="3"/>
<rect x="514" y="149" width="9" height="3"/>
<rect x="526" y="141" width="9" height="3"/>
<rect x="538" y="101" width="9" height="3"/>
<rect x="550" y="101" width="9" height="3"/>
<rect x="562" y="102" width="9" height="3"/>
<rect x="574" y="104" width="9" height="3"/>
<rect x="586" y="107" width="9" height="3"/>
<rect x="598" y="111" width="9" height="3"/>
<rect x="610" y="116" width="9" height="3"/>
<rect x="622" y="120" width="9" height="3"/>
<rect x="634" y="125" width="9" height="3"/>
<rect x="646" y="126" width="9" height="3"/>
<rect x="658" y="162" width="9" height="3"/>
<rect x="670" y="161" width="9" height="3"/>
<rect x="682" y="159" width="9" height="3"/>
<rect x="694" y="155" width="9" height="3"/>
<rect x="706" y="150" width="9" height="3"/>
<rect x="718" y="143" width="9" height="3"/>
<rect x="730" y="132" width="9" height="3"/>
<rect x="742" y="123" width="9" height="3"/>
<rect x="754" y="115" width="9" height="3"/>
<rect x="766" y="107" width="9" height="3"/>
<rect x="778" y="54" width="9" height="3"/>
<rect x="790" y="55" width="9" height="3"/>
<rect x="802" y="59" width="9" height="3"/>
<rect x="814" y="65" width="9" height="3"/>
<rect x="826" y="72" width="9" height="3"/>
<rect x="838" y="81" width="9" height="3"/>
<rect x="850" y="92" width="9" height="3"/>
<rect x="862" y="102" width="9" height="3"/>
<rect x="874" y="111" width="9" height="3"/>
<rect x="886" y="125" width="9" height="3"/>
<rect x="898" y="140" width="9" height="3"/>
<rect x="910" y="152" width="9" height="3"/>
<rect x="922" y="162" width="9" height="3"/>
<rect x="934" y="171" width="9" height="3"/>
<rect x="946" y="177" width="9" height="3"/>
<rect x="958" y="182" width="9" height="3"/>
<rect x="970" y="189" width="9" height="3"/>
<rect x="982" y="201" width="9" height="3"/>
<rect x="994" y="212" width="9" height="3"/>
<rect x="1006" y="222" width="9" height="3"/>
<rect x="1018" y="230" width="9" height="3"/>
<rect x="1030" y="261" width="9" height="3"/>
<rect x="1042" y="229" width="9" height="3"/>
<rect x="1054" y="229" width="9" height="3"/>
<rect x="1066" y="232" width="9" height="3"/>
<rect x="1078" y="237" width="9" height="3"/>
<rect x="1090" y="242" width="9" height="3"/>
<rect x="1102" y="249" width="9" height="3"/>
<rect x="1114" y="260" width="9" height="3"/>
<rect x="1126" y="272" width="9" height="3"/>
<rect x="1138" y="292" width="9" height="3"/>
<rect x="1150" y="309" width="9" height="3"/>
<rect x="1162" y="324" width="9" height="3"/>
<rect x="1174" y="337" width="9" height="3"/>
<rect x="1186" y="350" width="9" height="3"/>
<rect x="1198" y="362" width="9" height="3"/>
<rect x="1210" y="423" width="9" height="3"/>
<rect x="1222" y="422" width="9" height="3"/>
<rect x="1234" y="419" width="9" height="3"/>
<rect x="1246" y="419" width="9" height="3"/>
<rect x="1258" y="418" width="9" height="3"/>
<rect x="1270" y="416" width="9" height="3"/>
<rect x="1282" y="415" width="9" height="3"/>
<rect x="1294" y="414" width="9" height="3"/>
<rect x="1306" y="413" width="9" height="3"/>
<rect x="1318" y="411" width="9" height="3"/>
<rect x="1330" y="352" width="9" height="3"/>
<rect x="1342" y="354" width="9" height="3"/>
<rect x="1354" y="357" width="9" height="3"/>
<rect x="1366" y="364" width="9" height="3"/>
<rect x="1378" y="371" width="9" height="3"/>
<rect x="1390" y="381" width="9" height="3"/>
<rect x="1402" y="395" width="9" height="3"/>
<rect x="1414" y="407" width="9" height="3"/>
<rect x="1426" y="418" width="9" height="3"/>
<rect x="1438" y="498" width="9" height="3"/>
<rect x="1450" y="496" width="9" height="3"/>
<rect x="1462" y="495" width="9" height="3"/>
<rect x="1474" y="490" width="9" height="3"/>
<rect x="1486" y="483" width="9" height="3"/>
<rect x="1498" y="473" width="9" height="3"/>
<rect x="1510" y="464" width="9" height="3"/>
<rect x="1522" y="456" width="9" height="3"/>
<rect x="1534" y="448" width="9" height="3"/>
<rect x="1546" y="441" width="9" height="3"/>
<rect x="1558" y="435" width="9" height="3"/>
<rect x="1570" y="427" width="9" height="3"/>
</g>
<defs><path id="fu" d="M0,0h1v1h-1zM0,1h1v1h-1zM0,2h1v1h-1zM-1,3h1v1h-1zM1,3h1v1h-1zM-1,4h1v1h-1zM1,4h1v1h-1zM-1,5h1v1h-1zM1,5h1v1h-1zM-1,6h1v1h-1zM1,6h1v1h-1zM-1,7h1v1h-1zM1,7h1v1h-1zM-2,8h1v1h-1zM2,8h1v1h-1zM-2,9h1v1h-1zM2,9h1v1h-1zM-2,10h1v1h-1zM0,10h1v1h-1zM2,10h1v1h-1zM-2,11h1v1h-1zM-1,11h1v1h-1zM1,11h1v1h-1zM2,11h1v1h-1zM-2,12h1v1h-1zM-1,12h1v1h-1zM1,12h1v1h-1zM2,12h1v1h-1zM-3,13h1v1h-1zM-2,13h1v1h-1zM2,13h1v1h-1zM3,13h1v1h-1zM-3,14h1v1h-1zM-2,14h1v1h-1zM2,14h1v1h-1zM3,14h1v1h-1zM-3,15h1v1h-1zM3,15h1v1h-1z" fill="#00ff00"/><path id="fd" d="M0,15h1v1h-1zM0,14h1v1h-1zM0,13h1v1h-1zM-1,12h1v1h-1zM1,12h1v1h-1zM-1,11h1v1h-1zM1,11h1v1h-1zM-1,10h1v1h-1zM1,10h1v1h-1zM-1,9h1v1h-1zM1,9h1v1h-1zM-1,8h1v1h-1zM1,8h1v1h-1zM-2,7h1v1h-1zM2,7h1v1h-1zM-2,6h1v1h-1zM2,6h1v1h-1zM-2,5h1v1h-1zM0,5h1v1h-1zM2,5h1v1h-1zM-2,4h1v1h-1zM-1,4h1v1h-1zM1,4h1v1h-1zM2,4h1v1h-1zM-2,3h1v1h-1zM-1,3h1v1h-1zM1,3h1v1h-1zM2,3h1v1h-1zM-3,2h1v1h-1zM-2,2h1v1h-1zM2,2h1v1h-1zM3,2h1v1h-1zM-3,1h1v1h-1zM-2,1h1v1h-1zM2,1h1v1h-1zM3,1h1v1h-1zM-3,0h1v1h-1zM3,0h1v1h-1z" fill="#ff0000"/></defs>
<g shape-rendering="crispEdges">
<use href="#fu" x="26" y="244"/>
<use href="#fu" x="134" y="234"/>
<use href="#fu" x="266" y="185"/>
<use href="#fu" x="458" y="99"/>
<use href="#fu" x="530" y="83"/>
<use href="#fu" x="722" y="36"/>
<use href="#fu" x="926" y="165"/>
<use href="#fu" x="1034" y="211"/>
<use href="#fu" x="1154" y="353"/>
<use href="#fu" x="1214" y="334"/>
<use href="#fu" x="1310" y="354"/>
<use href="#fu" x="1490" y="342"/>
<use href="#fd" x="38" y="311"/>
<use href="#fd" x="98" y="283"/>
<use href="#fd" x="182" y="293"/>
<use href="#fd" x="302" y="258"/>
<use href="#fd" x="494" y="156"/>
<use href="#fd" x="602" y="169"/>
<use href="#fd" x="746" y="104"/>
<use href="#fd" x="890" y="215"/>
<use href="#fd" x="1130" y="421"/>
<use href="#fd" x="1178" y="430"/>
<use href="#fd" x="1238" y="412"/>
<use href="#fd" x="1298" y="411"/>
<use href="#fd" x="1394" y="505"/>
<use href="#fd" x="1514" y="404"/>
</g>
<g shape-rendering="crispEdges">
<rect x="10.00" y="386.00" width="1727.00" height="1.00" fill="#b8b8b8" />
</g>
<g shape-rendering="crispEdges">
<rect x="722.00" y="55.00" width="1015.00" height="1.00" fill="#ff0000" />
<rect x="722.00" y="160.00" width="1015.00" height="1.00" fill="#ff0000" />
<rect x="722.00" y="225.00" width="1015.00" height="1.00" fill="#ff0000" />
<rect x="722.00" y="277.00" width="1015.00" height="1.00" fill="#ff0000" />
<rect x="722.00" y="330.00" width="1015.00" height="1.00" fill="#ff0000" />
<rect x="722.00" y="395.00" width="1015.00" height="1.00" fill="#ff0000" />
<rect x="722.00" y="500.00" width="1015.00" height="1.00" fill="#ff0000" />
</g>
<text x="722.5" y="51" font-size="12" fill="#ff0000" font-weight="normal" text-anchor="start" textLength="28.2" lengthAdjust="spacingAndGlyphs" >0.00%</text>
<text x="722.5" y="157" font-size="12" fill="#ff0000" font-weight="normal" text-anchor="start" textLength="34.5" lengthAdjust="spacingAndGlyphs" >23.60%</text>
<text x="722.5" y="221" font-size="12" fill="#ff0000" font-weight="normal" text-anchor="start" textLength="34.5" lengthAdjust="spacingAndGlyphs" >38.20%</text>
<text x="722.5" y="274" font-size="12" fill="#ff0000" font-weight="normal" text-anchor="start" textLength="34.5" lengthAdjust="spacingAndGlyphs" >50.00%</text>
<text x="722.5" y="326" font-size="12" fill="#ff0000" font-weight="normal" text-anchor="start" textLength="34.5" lengthAdjust="spacingAndGlyphs" >61.80%</text>
<text x="722.5" y="391" font-size="12" fill="#ff0000" font-weight="normal" text-anchor="start" textLength="34.5" lengthAdjust="spacingAndGlyphs" >76.40%</text>
<text x="722.5" y="496" font-size="12" fill="#ff0000" font-weight="normal" text-anchor="start" textLength="40.5" lengthAdjust="spacingAndGlyphs" >100.00%</text>
<line x1="722.00" y1="56.30" x2="1622.00" y2="551.30" stroke="#000" stroke-width="0.9" />
<line x1="1119.00" y1="414.20" x2="1549.00" y2="550.20" stroke="#000" stroke-width="2.2" />
<line x1="1396.50" y1="500.00" x2="1736.00" y2="195.10" stroke="#ff0000" stroke-width="1" />
<line x1="1396.50" y1="500.00" x2="1736.00" y2="256.00" stroke="#ff0000" stroke-width="1" />
<line x1="1396.50" y1="500.00" x2="1736.00" y2="313.40" stroke="#ff0000" stroke-width="1" />
<line x1="1396.50" y1="500.00" x2="1490.50" y2="362.40" stroke="#ff0000" stroke-width="1.1" stroke-dasharray="3 5"/>
<text x="1490.5" y="404.8" font-size="12" fill="#ff0000" font-weight="normal" text-anchor="start" textLength="20.5" lengthAdjust="spacingAndGlyphs" >38.2</text>
<text x="1490.5" y="422.3" font-size="12" fill="#ff0000" font-weight="normal" text-anchor="start" textLength="20.5" lengthAdjust="spacingAndGlyphs" >50.0</text>
<text x="1490.5" y="437.8" font-size="12" fill="#ff0000" font-weight="normal" text-anchor="start" textLength="20.5" lengthAdjust="spacingAndGlyphs" >61.8</text>
<line x1="1636.10" y1="352.50" x2="1636.90" y2="312.00" stroke="#000" stroke-width="3.3" stroke-linecap="round"/>
<path d="M1637,296.6 L1645.2,314.6 L1637,313.6 L1629,314.6 Z" fill="#000"/>
<text transform="translate(1290.11,103.4) scale(0.9468,1)" font-size="36.6" font-weight="bold" fill="#000" stroke="#000" stroke-width="0.7">B</text>
<text transform="translate(1316.26,103.4) scale(0.9705,1)" font-size="36.6" font-weight="bold" fill="#000" stroke="#000" stroke-width="0.7">R</text>
<text transform="translate(1343.39,103.4) scale(0.7677,1)" font-size="36.6" font-weight="bold" fill="#000" stroke="#000" stroke-width="0.7">E</text>
<text transform="translate(1363.41,103.4) scale(0.9946,1)" font-size="36.6" font-weight="bold" fill="#000" stroke="#000" stroke-width="0.7">N</text>
<text transform="translate(1388.54,103.4) scale(1.0828,1)" font-size="36.6" font-weight="bold" fill="#000" stroke="#000" stroke-width="0.7">T</text>
<text transform="translate(1434.32,103.4) scale(0.9873,1)" font-size="36.6" font-weight="bold" fill="#000" stroke="#000" stroke-width="0.7">R</text>
<text transform="translate(1460.10,103.4) scale(0.9737,1)" font-size="36.6" font-weight="bold" fill="#000" stroke="#000" stroke-width="0.7">U</text>
<text transform="translate(1488.25,103.4) scale(0.9294,1)" font-size="36.6" font-weight="bold" fill="#000" stroke="#000" stroke-width="0.7">B</text>
<text transform="translate(1511.78,103.4) scale(1.1432,1)" font-size="36.6" font-weight="bold" fill="#000" stroke="#000" stroke-width="0.7">:</text>
<text transform="translate(1535.24,103.4) scale(1.0763,1)" font-size="36.6" font-weight="bold" fill="#000" stroke="#000" stroke-width="0.7">D</text>
<text transform="translate(1564.13,103.4) scale(0.9538,1)" font-size="36.6" font-weight="bold" fill="#000" stroke="#000" stroke-width="0.7">1</text>
<path d="M1415.1,109.9 L1422.1,109.9 L1430.5,76.9 L1423.5,76.9 Z" fill="#000"/>
<text x="360" y="112" font-size="21.5" fill="#000" font-weight="bold" text-anchor="start" textLength="84" lengthAdjust="spacingAndGlyphs" stroke="#000" stroke-width="0.45">Fractals</text>
<text x="411.8" y="300" font-size="22" fill="#000" font-weight="bold" text-anchor="start" textLength="92.8" lengthAdjust="spacingAndGlyphs" stroke="#000" stroke-width="0.45">Bollinger</text>
<text x="509.8" y="300" font-size="22" fill="#000" font-weight="bold" text-anchor="start" textLength="64.8" lengthAdjust="spacingAndGlyphs" stroke="#000" stroke-width="0.45">Bands</text>
<text x="580.4" y="300" font-size="22" fill="#000" font-weight="bold" text-anchor="start" textLength="86.1" lengthAdjust="spacingAndGlyphs" stroke="#000" stroke-width="0.45">(16,2.1)</text>
<text x="47.0" y="350.5" font-size="22" fill="#000" font-weight="bold" text-anchor="start" textLength="139.8" lengthAdjust="spacingAndGlyphs" stroke="#000" stroke-width="0.45">ParabolicSAR</text>
<text x="193.7" y="350.5" font-size="22" fill="#000" font-weight="bold" text-anchor="start" textLength="59.0" lengthAdjust="spacingAndGlyphs" stroke="#000" stroke-width="0.45">(0.02,</text>
<text x="263.0" y="350.5" font-size="22" fill="#000" font-weight="bold" text-anchor="start" textLength="41.8" lengthAdjust="spacingAndGlyphs" stroke="#000" stroke-width="0.45">0.2)</text>
<text x="1271.3" y="216" font-size="22" fill="#000" font-weight="bold" text-anchor="start" textLength="32.7" lengthAdjust="spacingAndGlyphs" stroke="#000" stroke-width="0.45">MA</text>
<text x="1310.9" y="216" font-size="22" fill="#000" font-weight="bold" text-anchor="start" textLength="58.0" lengthAdjust="spacingAndGlyphs" stroke="#000" stroke-width="0.45">(200)</text>
<text x="1675.8" y="368.7" font-size="21.5" fill="#000" font-weight="bold" text-anchor="start" textLength="51" lengthAdjust="spacingAndGlyphs" stroke="#000" stroke-width="0.45">4350</text>
<text x="1608.3" y="487.6" font-size="21.5" fill="#000" font-weight="bold" text-anchor="start" textLength="51" lengthAdjust="spacingAndGlyphs" stroke="#000" stroke-width="0.45">3700</text>
<text x="71.2" y="661" font-size="22" fill="#000" font-weight="bold" text-anchor="start" textLength="63.6" lengthAdjust="spacingAndGlyphs" stroke="#000" stroke-width="0.45">MACD</text>
<text x="140.8" y="661" font-size="22" fill="#000" font-weight="bold" text-anchor="start" textLength="42.3" lengthAdjust="spacingAndGlyphs" stroke="#000" stroke-width="0.45">(16,</text>
<text x="189.6" y="661" font-size="22" fill="#000" font-weight="bold" text-anchor="start" textLength="31.9" lengthAdjust="spacingAndGlyphs" stroke="#000" stroke-width="0.45">29,</text>
<text x="229.7" y="661" font-size="22" fill="#000" font-weight="bold" text-anchor="start" textLength="21.7" lengthAdjust="spacingAndGlyphs" stroke="#000" stroke-width="0.45">9)</text>
<text x="95.3" y="822" font-size="22" fill="#000" font-weight="bold" text-anchor="start" textLength="39.3" lengthAdjust="spacingAndGlyphs" stroke="#000" stroke-width="0.45">RSI</text>
<text x="139.8" y="822" font-size="22" fill="#000" font-weight="bold" text-anchor="start" textLength="46.2" lengthAdjust="spacingAndGlyphs" stroke="#000" stroke-width="0.45">(10)</text>
<g shape-rendering="crispEdges">
<rect x="9.00" y="7.00" width="1730.00" height="1.00" fill="#000" />
<rect x="9.00" y="7.00" width="1.00" height="544.00" fill="#000" />
<rect x="1736.00" y="7.00" width="3.00" height="544.00" fill="#000" />
<rect x="1739.00" y="48.00" width="4.00" height="1.00" fill="#000" />
<rect x="1739.00" y="87.00" width="4.00" height="1.00" fill="#000" />
<rect x="1739.00" y="126.00" width="4.00" height="1.00" fill="#000" />
<rect x="1739.00" y="165.00" width="4.00" height="1.00" fill="#000" />
<rect x="1739.00" y="203.00" width="4.00" height="1.00" fill="#000" />
<rect x="1739.00" y="242.00" width="4.00" height="1.00" fill="#000" />
<rect x="1739.00" y="281.00" width="4.00" height="1.00" fill="#000" />
<rect x="1739.00" y="320.00" width="4.00" height="1.00" fill="#000" />
<rect x="1739.00" y="359.00" width="4.00" height="1.00" fill="#000" />
<rect x="1739.00" y="398.00" width="4.00" height="1.00" fill="#000" />
<rect x="1739.00" y="437.00" width="4.00" height="1.00" fill="#000" />
<rect x="1739.00" y="475.00" width="4.00" height="1.00" fill="#000" />
<rect x="1739.00" y="514.00" width="4.00" height="1.00" fill="#000" />
</g>
<text x="1744" y="52.3" font-size="12" fill="#000" font-weight="normal" text-anchor="start" textLength="38.7" lengthAdjust="spacingAndGlyphs" >5969.65</text>
<text x="1744" y="91.3" font-size="12" fill="#000" font-weight="normal" text-anchor="start" textLength="38.7" lengthAdjust="spacingAndGlyphs" >5763.80</text>
<text x="1744" y="130.3" font-size="12" fill="#000" font-weight="normal" text-anchor="start" textLength="38.7" lengthAdjust="spacingAndGlyphs" >5557.95</text>
<text x="1744" y="169.3" font-size="12" fill="#000" font-weight="normal" text-anchor="start" textLength="38.7" lengthAdjust="spacingAndGlyphs" >5352.10</text>
<text x="1744" y="207.3" font-size="12" fill="#000" font-weight="normal" text-anchor="start" textLength="38.7" lengthAdjust="spacingAndGlyphs" >5146.25</text>
<text x="1744" y="246.3" font-size="12" fill="#000" font-weight="normal" text-anchor="start" textLength="38.7" lengthAdjust="spacingAndGlyphs" >4940.40</text>
<text x="1744" y="285.3" font-size="12" fill="#000" font-weight="normal" text-anchor="start" textLength="38.7" lengthAdjust="spacingAndGlyphs" >4734.55</text>
<text x="1744" y="324.3" font-size="12" fill="#000" font-weight="normal" text-anchor="start" textLength="38.7" lengthAdjust="spacingAndGlyphs" >4528.70</text>
<text x="1744" y="363.3" font-size="12" fill="#000" font-weight="normal" text-anchor="start" textLength="38.7" lengthAdjust="spacingAndGlyphs" >4322.85</text>
<text x="1744" y="402.3" font-size="12" fill="#000" font-weight="normal" text-anchor="start" textLength="38.7" lengthAdjust="spacingAndGlyphs" >4117.00</text>
<text x="1744" y="441.3" font-size="12" fill="#000" font-weight="normal" text-anchor="start" textLength="38.7" lengthAdjust="spacingAndGlyphs" >3911.15</text>
<text x="1744" y="479.3" font-size="12" fill="#000" font-weight="normal" text-anchor="start" textLength="38.7" lengthAdjust="spacingAndGlyphs" >3705.30</text>
<text x="1744" y="518.3" font-size="12" fill="#000" font-weight="normal" text-anchor="start" textLength="38.7" lengthAdjust="spacingAndGlyphs" >3499.45</text>
<g shape-rendering="crispEdges">
<rect x="1739.00" y="379.00" width="48.00" height="14.00" fill="#c0c0c0" />
</g>
<text x="1744" y="389.6" font-size="12" fill="#fff" font-weight="normal" text-anchor="start" textLength="38.7" lengthAdjust="spacingAndGlyphs" >4176.82</text>
<rect x="9.00" y="550.40" width="1730.00" height="1.30" fill="#000" />
<g shape-rendering="crispEdges">
<rect x="1726.00" y="11.00" width="8.00" height="7.00" fill="#000" />
<rect x="1727.00" y="13.00" width="6.00" height="4.00" fill="#f8f9fe" />
</g>
<g shape-rendering="crispEdges">
<rect x="9.00" y="556.00" width="1729.00" height="1.00" fill="#c0c0c0" />
<rect x="9.00" y="556.00" width="1.00" height="135.00" fill="#c0c0c0" />
<rect x="9.00" y="690.00" width="1729.00" height="1.00" fill="#c0c0c0" />
<rect x="1737.00" y="556.00" width="1.00" height="135.00" fill="#c0c0c0" />
<rect x="10.00" y="607.00" width="1727.00" height="1.00" fill="#c0c0c0" />
<rect x="26" y="608" width="1.4" height="6" fill="#0000e0"/>
<rect x="38" y="608" width="1.4" height="10" fill="#0000e0"/>
<rect x="50" y="608" width="1.4" height="12" fill="#0000e0"/>
<rect x="62" y="608" width="1.4" height="12" fill="#0000e0"/>
<rect x="74" y="608" width="1.4" height="12" fill="#0000e0"/>
<rect x="86" y="608" width="1.4" height="10" fill="#0000e0"/>
<rect x="98" y="608" width="1.4" height="10" fill="#0000e0"/>
<rect x="110" y="608" width="1.4" height="8" fill="#0000e0"/>
<rect x="122" y="608" width="1.4" height="7" fill="#0000e0"/>
<rect x="134" y="608" width="1.4" height="6" fill="#0000e0"/>
<rect x="146" y="608" width="1.4" height="6" fill="#0000e0"/>
<rect x="158" y="608" width="1.4" height="6" fill="#0000e0"/>
<rect x="170" y="608" width="1.4" height="6" fill="#0000e0"/>
<rect x="182" y="608" width="1.4" height="6" fill="#0000e0"/>
<rect x="194" y="608" width="1.4" height="6" fill="#0000e0"/>
<rect x="206" y="608" width="1.4" height="5" fill="#0000e0"/>
<rect x="218" y="608" width="1.4" height="4" fill="#0000e0"/>
<rect x="230" y="608" width="1.4" height="2" fill="#0000e0"/>
<rect x="254" y="602" width="1.4" height="6" fill="#0000e0"/>
<rect x="266" y="600" width="1.4" height="8" fill="#0000e0"/>
<rect x="278" y="599" width="1.4" height="9" fill="#0000e0"/>
<rect x="290" y="600" width="1.4" height="8" fill="#0000e0"/>
<rect x="302" y="599" width="1.4" height="9" fill="#0000e0"/>
<rect x="314" y="598" width="1.4" height="10" fill="#0000e0"/>
<rect x="326" y="598" width="1.4" height="10" fill="#0000e0"/>
<rect x="338" y="596" width="1.4" height="12" fill="#0000e0"/>
<rect x="350" y="591" width="1.4" height="17" fill="#0000e0"/>
<rect x="362" y="588" width="1.4" height="20" fill="#0000e0"/>
<rect x="374" y="584" width="1.4" height="24" fill="#0000e0"/>
<rect x="386" y="582" width="1.4" height="26" fill="#0000e0"/>
<rect x="398" y="579" width="1.4" height="29" fill="#0000e0"/>
<rect x="410" y="576" width="1.4" height="32" fill="#0000e0"/>
<rect x="422" y="573" width="1.4" height="35" fill="#0000e0"/>
<rect x="434" y="572" width="1.4" height="36" fill="#0000e0"/>
<rect x="446" y="570" width="1.4" height="38" fill="#0000e0"/>
<rect x="458" y="569" width="1.4" height="39" fill="#0000e0"/>
<rect x="470" y="569" width="1.4" height="39" fill="#0000e0"/>
<rect x="482" y="571" width="1.4" height="37" fill="#0000e0"/>
<rect x="494" y="571" width="1.4" height="37" fill="#0000e0"/>
<rect x="506" y="570" width="1.4" height="38" fill="#0000e0"/>
<rect x="518" y="568" width="1.4" height="40" fill="#0000e0"/>
<rect x="530" y="567" width="1.4" height="41" fill="#0000e0"/>
<rect x="542" y="569" width="1.4" height="39" fill="#0000e0"/>
<rect x="554" y="572" width="1.4" height="36" fill="#0000e0"/>
<rect x="566" y="575" width="1.4" height="33" fill="#0000e0"/>
<rect x="578" y="578" width="1.4" height="30" fill="#0000e0"/>
<rect x="590" y="581" width="1.4" height="27" fill="#0000e0"/>
<rect x="602" y="585" width="1.4" height="23" fill="#0000e0"/>
<rect x="614" y="588" width="1.4" height="20" fill="#0000e0"/>
<rect x="626" y="589" width="1.4" height="19" fill="#0000e0"/>
<rect x="638" y="589" width="1.4" height="19" fill="#0000e0"/>
<rect x="650" y="589" width="1.4" height="19" fill="#0000e0"/>
<rect x="662" y="589" width="1.4" height="19" fill="#0000e0"/>
<rect x="674" y="588" width="1.4" height="20" fill="#0000e0"/>
<rect x="686" y="586" width="1.4" height="22" fill="#0000e0"/>
<rect x="698" y="583" width="1.4" height="25" fill="#0000e0"/>
<rect x="710" y="581" width="1.4" height="27" fill="#0000e0"/>
<rect x="722" y="577" width="1.4" height="31" fill="#0000e0"/>
<rect x="734" y="575" width="1.4" height="33" fill="#0000e0"/>
<rect x="746" y="577" width="1.4" height="31" fill="#0000e0"/>
<rect x="758" y="577" width="1.4" height="31" fill="#0000e0"/>
<rect x="770" y="578" width="1.4" height="30" fill="#0000e0"/>
<rect x="782" y="583" width="1.4" height="25" fill="#0000e0"/>
<rect x="794" y="589" width="1.4" height="19" fill="#0000e0"/>
<rect x="806" y="595" width="1.4" height="13" fill="#0000e0"/>
<rect x="818" y="599" width="1.4" height="9" fill="#0000e0"/>
<rect x="830" y="603" width="1.4" height="5" fill="#0000e0"/>
<rect x="854" y="608" width="1.4" height="2" fill="#0000e0"/>
<rect x="866" y="608" width="1.4" height="4" fill="#0000e0"/>
<rect x="878" y="608" width="1.4" height="11" fill="#0000e0"/>
<rect x="890" y="608" width="1.4" height="14" fill="#0000e0"/>
<rect x="902" y="608" width="1.4" height="18" fill="#0000e0"/>
<rect x="914" y="608" width="1.4" height="18" fill="#0000e0"/>
<rect x="926" y="608" width="1.4" height="18" fill="#0000e0"/>
<rect x="938" y="608" width="1.4" height="20" fill="#0000e0"/>
<rect x="950" y="608" width="1.4" height="20" fill="#0000e0"/>
<rect x="962" y="608" width="1.4" height="26" fill="#0000e0"/>
<rect x="974" y="608" width="1.4" height="29" fill="#0000e0"/>
<rect x="986" y="608" width="1.4" height="32" fill="#0000e0"/>
<rect x="998" y="608" width="1.4" height="35" fill="#0000e0"/>
<rect x="1010" y="608" width="1.4" height="36" fill="#0000e0"/>
<rect x="1022" y="608" width="1.4" height="37" fill="#0000e0"/>
<rect x="1034" y="608" width="1.4" height="36" fill="#0000e0"/>
<rect x="1046" y="608" width="1.4" height="39" fill="#0000e0"/>
<rect x="1058" y="608" width="1.4" height="42" fill="#0000e0"/>
<rect x="1070" y="608" width="1.4" height="46" fill="#0000e0"/>
<rect x="1082" y="608" width="1.4" height="47" fill="#0000e0"/>
<rect x="1094" y="608" width="1.4" height="49" fill="#0000e0"/>
<rect x="1106" y="608" width="1.4" height="55" fill="#0000e0"/>
<rect x="1118" y="608" width="1.4" height="59" fill="#0000e0"/>
<rect x="1130" y="608" width="1.4" height="67" fill="#0000e0"/>
<rect x="1142" y="608" width="1.4" height="68" fill="#0000e0"/>
<rect x="1154" y="608" width="1.4" height="68" fill="#0000e0"/>
<rect x="1166" y="608" width="1.4" height="69" fill="#0000e0"/>
<rect x="1178" y="608" width="1.4" height="70" fill="#0000e0"/>
<rect x="1190" y="608" width="1.4" height="71" fill="#0000e0"/>
<rect x="1202" y="608" width="1.4" height="66" fill="#0000e0"/>
<rect x="1214" y="608" width="1.4" height="63" fill="#0000e0"/>
<rect x="1226" y="608" width="1.4" height="58" fill="#0000e0"/>
<rect x="1238" y="608" width="1.4" height="58" fill="#0000e0"/>
<rect x="1250" y="608" width="1.4" height="51" fill="#0000e0"/>
<rect x="1262" y="608" width="1.4" height="50" fill="#0000e0"/>
<rect x="1274" y="608" width="1.4" height="48" fill="#0000e0"/>
<rect x="1286" y="608" width="1.4" height="46" fill="#0000e0"/>
<rect x="1298" y="608" width="1.4" height="44" fill="#0000e0"/>
<rect x="1310" y="608" width="1.4" height="42" fill="#0000e0"/>
<rect x="1322" y="608" width="1.4" height="40" fill="#0000e0"/>
<rect x="1334" y="608" width="1.4" height="42" fill="#0000e0"/>
<rect x="1346" y="608" width="1.4" height="42" fill="#0000e0"/>
<rect x="1358" y="608" width="1.4" height="43" fill="#0000e0"/>
<rect x="1370" y="608" width="1.4" height="45" fill="#0000e0"/>
<rect x="1382" y="608" width="1.4" height="48" fill="#0000e0"/>
<rect x="1394" y="608" width="1.4" height="50" fill="#0000e0"/>
<rect x="1406" y="608" width="1.4" height="48" fill="#0000e0"/>
<rect x="1418" y="608" width="1.4" height="49" fill="#0000e0"/>
<rect x="1430" y="608" width="1.4" height="44" fill="#0000e0"/>
<rect x="1442" y="608" width="1.4" height="40" fill="#0000e0"/>
<rect x="1454" y="608" width="1.4" height="36" fill="#0000e0"/>
<rect x="1466" y="608" width="1.4" height="29" fill="#0000e0"/>
<rect x="1478" y="608" width="1.4" height="22" fill="#0000e0"/>
<rect x="1490" y="608" width="1.4" height="16" fill="#0000e0"/>
<rect x="1502" y="608" width="1.4" height="13" fill="#0000e0"/>
<rect x="1514" y="608" width="1.4" height="10" fill="#0000e0"/>
<rect x="1526" y="608" width="1.4" height="8" fill="#0000e0"/>
<rect x="1538" y="608" width="1.4" height="6" fill="#0000e0"/>
<rect x="1550" y="608" width="1.4" height="3" fill="#0000e0"/>
<rect x="1562" y="606" width="1.4" height="2" fill="#0000e0"/>
<rect x="1574" y="606" width="1.4" height="2" fill="#0000e0"/>
<rect x="1738.00" y="556.00" width="5.00" height="1.00" fill="#000" />
<rect x="1738.00" y="690.00" width="5.00" height="1.00" fill="#000" />
</g>
<path d="M26.0,599.5 C31.7,600.9 49.9,605.5 60.0,607.8 C70.2,610.1 78.6,612.0 86.9,613.5 C95.2,615.0 100.5,616.2 110.0,616.8 C119.5,617.3 129.7,617.2 143.7,616.8 C157.7,616.4 177.7,615.2 193.8,614.5 C210.0,613.8 225.6,613.8 240.6,612.5 C255.6,611.2 269.5,608.8 284.0,606.8 C298.5,604.8 313.5,602.6 327.4,600.8 C341.3,599.0 355.8,597.4 367.5,595.8 C379.2,594.2 387.6,593.2 397.6,591.1 C407.6,589.0 419.4,585.4 427.7,583.4 C436.0,581.4 438.2,580.8 447.7,579.1 C457.2,577.4 472.8,574.8 484.5,573.4 C496.2,572.0 504.5,571.2 517.9,570.7 C531.3,570.2 551.0,570.0 564.7,570.4 C578.4,570.8 588.5,571.8 600.0,573.4 C611.5,575.0 621.7,577.9 633.4,580.1 C645.1,582.3 658.0,585.6 670.2,586.8 C682.5,588.0 694.1,588.1 706.9,587.4 C719.7,586.7 733.6,584.0 747.0,582.8 C760.4,581.6 773.2,579.5 787.1,580.1 C801.0,580.7 817.7,583.5 830.5,586.1 C843.3,588.7 853.4,592.3 864.0,595.8 C874.6,599.2 881.8,602.9 894.0,606.8 C906.2,610.7 924.1,615.8 937.5,619.2 C950.9,622.7 959.7,624.5 974.2,627.5 C988.7,630.5 1012.6,635.0 1024.3,636.9 C1036.0,638.8 1030.5,636.4 1044.4,638.6 C1058.3,640.8 1090.6,646.4 1107.9,650.3 C1125.2,654.2 1133.3,658.1 1148.0,662.0 C1162.7,665.9 1186.3,671.4 1196.0,673.6 C1205.7,675.8 1199.3,675.1 1206.0,675.3 C1212.7,675.5 1225.5,676.1 1236.1,675.0 C1246.7,673.9 1257.2,671.3 1269.5,668.6 C1281.8,665.9 1296.8,661.3 1309.6,658.6 C1322.4,655.9 1335.3,654.1 1346.4,652.6 C1357.5,651.1 1365.8,649.8 1376.4,649.6 C1387.0,649.4 1398.7,650.8 1409.8,651.3 C1420.9,651.8 1432.0,653.0 1443.2,652.6 C1454.4,652.2 1466.7,650.7 1476.7,648.6 C1486.7,646.5 1494.5,643.0 1503.4,640.2 C1512.3,637.4 1522.3,634.5 1530.1,631.9 C1537.9,629.3 1544.6,626.6 1550.2,624.5 C1555.8,622.4 1559.4,620.8 1563.5,619.5 C1567.6,618.2 1572.8,617.2 1574.6,616.8" fill="none" stroke="#ff0000" stroke-width="2.2" stroke-linecap="round" />
<text x="1744" y="566" font-size="12" fill="#000" font-weight="normal" text-anchor="start" textLength="38.7" lengthAdjust="spacingAndGlyphs" >210.779</text>
<text x="1744" y="611" font-size="12" fill="#000" font-weight="normal" text-anchor="start" textLength="27.5" lengthAdjust="spacingAndGlyphs" >0.000</text>
<text x="1744" y="689" font-size="12" fill="#000" font-weight="normal" text-anchor="start" textLength="42.5" lengthAdjust="spacingAndGlyphs" >-346.748</text>
<g shape-rendering="crispEdges">
<rect x="1715.00" y="560.00" width="8.00" height="7.00" fill="#000" />
<rect x="1716.00" y="562.00" width="6.00" height="4.00" fill="#f8f9fe" />
</g>
<path d="M1726.5,560 L1733.5,567 M1733.5,560 L1726.5,567" stroke="#000" stroke-width="1.4" fill="none"/>
<g shape-rendering="crispEdges">
<rect x="9.00" y="695.00" width="1729.00" height="1.00" fill="#c0c0c0" />
<rect x="9.00" y="695.00" width="1.00" height="145.00" fill="#c0c0c0" />
<rect x="9.00" y="839.00" width="1729.00" height="1.00" fill="#c0c0c0" />
<rect x="10.00" y="727.00" width="1727.00" height="1.00" fill="#c0c0c0" />
<rect x="10.00" y="797.00" width="1727.00" height="1.00" fill="#c0c0c0" />
<rect x="1736.00" y="695.00" width="1.00" height="145.00" fill="#000" />
<rect x="1738.00" y="695.00" width="1.00" height="145.00" fill="#000" />
<rect x="1738.00" y="695.00" width="5.00" height="1.00" fill="#000" />
<rect x="1738.00" y="839.00" width="5.00" height="1.00" fill="#000" />
</g>
<polyline points="26.0,793.6 38.0,793.6 50.0,780.2 62.0,773.5 74.0,771.9 86.0,770.2 98.0,767.5 110.0,761.2 122.0,757.5 134.0,759.2 146.0,761.2 158.0,769.2 170.0,785.6 182.0,768.5 194.0,775.5 206.0,754.5 218.0,752.8 230.0,760.2 242.0,743.5 254.0,727.8 266.0,742.8 278.0,747.5 290.0,754.1 302.0,761.5 314.0,747.8 326.0,747.5 338.0,741.1 350.0,724.1 362.0,722.1 374.0,718.4 386.0,724.1 398.0,719.4 410.0,714.4 422.0,710.4 434.0,722.4 446.0,717.4 458.0,717.4 470.0,728.4 482.0,732.4 494.0,726.1 506.0,717.7 518.0,712.4 530.0,714.1 542.0,743.8 554.0,747.5 566.0,754.1 578.0,752.8 590.0,759.2 602.0,773.5 614.0,771.9 626.0,752.5 638.0,744.1 650.0,746.8 662.0,748.5 674.0,731.1 686.0,723.4 698.0,719.4 710.0,715.1 722.0,707.4 734.0,726.8 746.0,740.1 758.0,733.4 770.0,747.8 782.0,773.5 794.0,780.9 806.0,786.6 818.0,780.9 830.0,786.9 842.0,788.6 854.0,785.6 866.0,791.9 878.0,807.3 890.0,804.3 902.0,802.3 914.0,787.2 926.0,787.2 938.0,796.2 950.0,797.6 962.0,815.3 974.0,806.6 986.0,810.3 998.0,812.6 1010.0,806.6 1022.0,806.3 1034.0,790.2 1046.0,809.3 1058.0,813.3 1070.0,817.3 1082.0,811.3 1094.0,817.0 1106.0,822.3 1118.0,826.7 1130.0,832.0 1142.0,805.3 1154.0,802.6 1166.0,806.3 1178.0,809.3 1190.0,811.0 1202.0,787.6 1214.0,779.2 1226.0,772.2 1238.0,790.2 1250.0,767.5 1262.0,777.2 1274.0,778.5 1286.0,777.2 1298.0,780.2 1310.0,776.2 1322.0,778.5 1334.0,792.2 1346.0,785.6 1358.0,791.9 1370.0,798.6 1382.0,804.3 1394.0,805.3 1406.0,785.6 1418.0,792.2 1430.0,775.5 1442.0,759.2 1454.0,763.5 1466.0,751.1 1478.0,742.8 1490.0,745.1 1502.0,751.1 1514.0,752.5 1526.0,755.5 1538.0,755.5 1550.0,740.1 1562.0,738.1 1574.0,757.8" fill="none" stroke="#ff0000" stroke-width="1.1" stroke-linejoin="round" stroke-linecap="round" />
<line x1="1131.00" y1="832.00" x2="1737.00" y2="771.20" stroke="#000" stroke-width="2.1" />
<text x="1744" y="704.5" font-size="12" fill="#000" font-weight="normal" text-anchor="start" textLength="12" lengthAdjust="spacingAndGlyphs" >88</text>
<text x="1744" y="731.1" font-size="12" fill="#000" font-weight="normal" text-anchor="start" textLength="12" lengthAdjust="spacingAndGlyphs" >70</text>
<text x="1744" y="801.2" font-size="12" fill="#000" font-weight="normal" text-anchor="start" textLength="12" lengthAdjust="spacingAndGlyphs" >30</text>
<text x="1744" y="838.0" font-size="12" fill="#000" font-weight="normal" text-anchor="start" textLength="6" lengthAdjust="spacingAndGlyphs" >6</text>
<g shape-rendering="crispEdges">
<rect x="1715.00" y="699.00" width="8.00" height="7.00" fill="#000" />
<rect x="1716.00" y="701.00" width="6.00" height="4.00" fill="#f8f9fe" />
</g>
<path d="M1726.5,699 L1733.5,706 M1733.5,699 L1726.5,706" stroke="#000" stroke-width="1.4" fill="none"/>
<g shape-rendering="crispEdges">
<rect x="158.00" y="840.00" width="1.00" height="4.00" fill="#000" />
<rect x="326.00" y="840.00" width="1.00" height="4.00" fill="#000" />
<rect x="494.00" y="840.00" width="1.00" height="4.00" fill="#000" />
<rect x="662.00" y="840.00" width="1.00" height="4.00" fill="#000" />
<rect x="830.00" y="840.00" width="1.00" height="4.00" fill="#000" />
<rect x="998.00" y="840.00" width="1.00" height="4.00" fill="#000" />
<rect x="1166.00" y="840.00" width="1.00" height="4.00" fill="#000" />
<rect x="1334.00" y="840.00" width="1.00" height="4.00" fill="#000" />
<rect x="1502.00" y="840.00" width="1.00" height="4.00" fill="#000" />
<rect x="1670.00" y="840.00" width="1.00" height="4.00" fill="#000" />
</g>
<text x="158" y="855.2" font-size="12" fill="#000" font-weight="normal" text-anchor="start" textLength="55" lengthAdjust="spacingAndGlyphs" >31 Jul 2018</text>
<text x="326" y="855.2" font-size="12" fill="#000" font-weight="normal" text-anchor="start" textLength="33.5" lengthAdjust="spacingAndGlyphs" >20 Aug</text>
<text x="494" y="855.2" font-size="12" fill="#000" font-weight="normal" text-anchor="start" textLength="33" lengthAdjust="spacingAndGlyphs" >07 Sep</text>
<text x="662" y="855.2" font-size="12" fill="#000" font-weight="normal" text-anchor="start" textLength="33" lengthAdjust="spacingAndGlyphs" >27 Sep</text>
<text x="830" y="855.2" font-size="12" fill="#000" font-weight="normal" text-anchor="start" textLength="30.5" lengthAdjust="spacingAndGlyphs" >17 Oct</text>
<text x="998" y="855.2" font-size="12" fill="#000" font-weight="normal" text-anchor="start" textLength="34" lengthAdjust="spacingAndGlyphs" >07 Nov</text>
<text x="1166" y="855.2" font-size="12" fill="#000" font-weight="normal" text-anchor="start" textLength="34" lengthAdjust="spacingAndGlyphs" >28 Nov</text>
<text x="1334" y="855.2" font-size="12" fill="#000" font-weight="normal" text-anchor="start" textLength="34" lengthAdjust="spacingAndGlyphs" >18 Dec</text>
<text x="1502" y="855.2" font-size="12" fill="#000" font-weight="normal" text-anchor="start" textLength="58" lengthAdjust="spacingAndGlyphs" >14 Jan 2019</text>
<text x="1670" y="855.2" font-size="12" fill="#000" font-weight="normal" text-anchor="start" textLength="31" lengthAdjust="spacingAndGlyphs" >30 Jan</text>
<text x="1764.6" y="852.6" font-size="12" fill="#000" font-weight="normal" text-anchor="start" >[</text>
<text x="1781.6" y="852.6" font-size="12" fill="#000" font-weight="normal" text-anchor="start" >]</text>
<text x="1773.2" y="852.6" font-size="12" fill="#000" font-weight="normal" text-anchor="start" >i</text>
<g shape-rendering="crispEdges">
<rect x="1771.00" y="854.00" width="8.00" height="1.00" fill="#000" />
</g>
</svg>
</body></html>
